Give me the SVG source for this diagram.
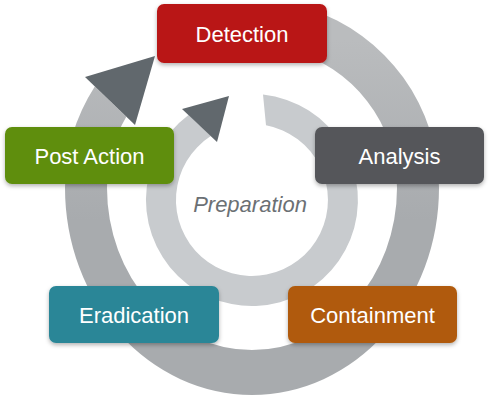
<svg xmlns="http://www.w3.org/2000/svg" width="490" height="404" viewBox="0 0 490 404">
  <defs>
    <linearGradient id="outerGrad" gradientUnits="userSpaceOnUse" x1="0" y1="40" x2="0" y2="220">
      <stop offset="0" stop-color="#babcbe"/>
      <stop offset="1" stop-color="#a8abae"/>
    </linearGradient>
    <filter id="shadow" x="-10%" y="-20%" width="120%" height="150%">
      <feDropShadow dx="0" dy="2" stdDeviation="2" flood-color="#000" flood-opacity="0.3"/>
    </filter>
    <style>
      .box { filter: url(#shadow); }
      .label { font-family: "Liberation Sans", Arial, sans-serif; font-size: 22px; fill: #ffffff; text-anchor: middle; }
      .arrowhead { fill: #61686d; }
    </style>
  </defs>
  <rect width="490" height="404" fill="#ffffff"/>

  <g id="connectors">
    <path id="outer-ring" fill="url(#outerGrad)" d="M 310,9.3 A 187 188 0 0 1 439,188 A 187 207 0 0 1 65,188 A 187 188 0 0 1 94.8,86.4 L 126.3,116.7 A 145 143 0 0 0 107,188 A 145 162 0 0 0 397,188 A 145 143 0 0 0 290,50 Z"/>
    <polygon class="arrowhead" points="85,77 155,56 135,125"/>
    <path id="inner-ring" fill="#c8cbce" d="M 263,94.6 A 106 106 0 1 1 188.5,115.1 L 210.8,136.1 A 76 76 0 1 0 266,125.3 Z"/>
    <polygon class="arrowhead" points="182,109 229,96 217,142"/>
  </g>

  <g id="preparation">
    <text x="250" y="212" font-family="Liberation Sans, Arial, sans-serif" font-size="22" font-style="italic" fill="#6b7074" text-anchor="middle">Preparation</text>
  </g>

  <g id="detection">
    <rect class="box" x="157" y="4" width="170" height="59" rx="7" fill="#b91919"/>
    <text class="label" x="242" y="42">Detection</text>
  </g>
  <g id="analysis">
    <rect class="box" x="315" y="127" width="169" height="57" rx="7" fill="#55575a"/>
    <text class="label" x="399.5" y="163.5">Analysis</text>
  </g>
  <g id="containment">
    <rect class="box" x="288" y="286" width="169" height="57" rx="7" fill="#b05a09"/>
    <text class="label" x="372.5" y="322.5">Containment</text>
  </g>
  <g id="eradication">
    <rect class="box" x="49" y="286" width="170" height="57" rx="7" fill="#2b8697"/>
    <text class="label" x="134" y="322.5">Eradication</text>
  </g>
  <g id="post-action">
    <rect class="box" x="5" y="127" width="169" height="57" rx="7" fill="#5e8e0b"/>
    <text class="label" x="89.5" y="163.5">Post Action</text>
  </g>
</svg>
